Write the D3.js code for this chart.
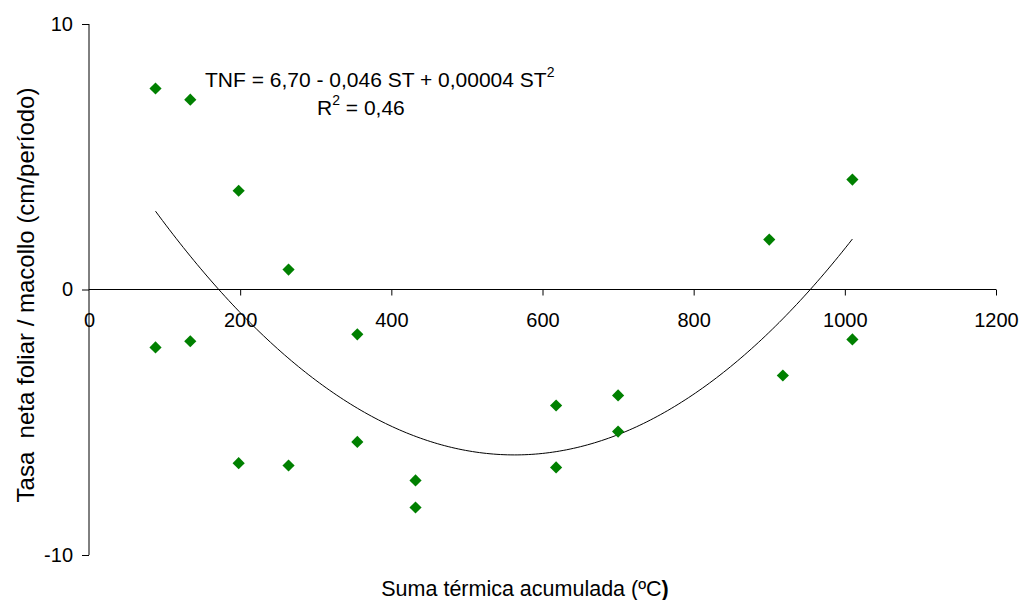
<!DOCTYPE html>
<html>
<head>
<meta charset="utf-8">
<script src="https://cdn.jsdelivr.net/npm/d3@7"></script>
<style>
  html, body { margin: 0; padding: 0; background: #fff; }
  svg { display: block; font-family: "Liberation Sans", Arial, sans-serif; }
</style>
</head>
<body>
<svg id="chart" width="1024" height="600"></svg>
<script>
// Accumulated thermal sum (ºC) for each sampling period
const sumaTermica = [88, 88, 134, 134, 198, 198, 264, 264, 355, 355, 432, 432,
                     618, 618, 700, 700, 900, 918, 1010, 1010];
// Net leaf growth rate per tiller (cm/period)
const tasaNeta = [7.57, -2.18, 7.15, -1.95, 3.72, -6.54, 0.75, -6.63, -1.69, -5.74,
                  -7.19, -8.21, -4.37, -6.70, -3.99, -5.35, 1.88, -3.24, 4.14, -1.88];

const xTicks = [0, 200, 400, 600, 800, 1000, 1200];
const yTicks = [-10, 0, 10];

const xTitle = "Suma térmica acumulada (ºC";
const yTitle = "Tasa  neta foliar / macollo (cm/período)";
const eqLine1 = "TNF = 6,70 - 0,046 ST + 0,00004 ST";
const eqLine2 = "R";
const eqLine2b = " = 0,46";

const margin = { left: 89, right: 28, top: 24, bottom: 45 };
const W = 1024, H = 600;
const svg = d3.select("#chart");

const x = d3.scaleLinear().domain([0, 1200]).range([margin.left, W - margin.right]);
const y = d3.scaleLinear().domain([-10, 10]).range([H - margin.bottom, margin.top]);

// plain hyphen for negative tick labels
const plain = d => String(d);

// Y axis (vertical line at x = 0) with ticks pointing left
const yAxis = svg.append("g")
  .attr("transform", `translate(${x(0)},0)`)
  .call(d3.axisLeft(y).tickValues(yTicks).tickSize(7).tickPadding(9).tickFormat(plain));

// X axis crossing at y = 0 with ticks pointing down
const xAxis = svg.append("g")
  .attr("transform", `translate(0,${y(0)})`)
  .call(d3.axisBottom(x).tickValues(xTicks).tickSize(6).tickPadding(17).tickFormat(plain));

[yAxis, xAxis].forEach(g => {
  g.select(".domain").attr("stroke", "#000").attr("stroke-width", 1);
  g.selectAll(".tick line").attr("stroke", "#000");
  g.selectAll(".tick text")
    .attr("font-family", "Liberation Sans, Arial, sans-serif")
    .attr("font-size", 20).attr("fill", "#000");
});
// plain axis lines without outer end ticks
yAxis.select(".domain").attr("d", `M0,${y(10)}V${y(-10)}`);
xAxis.select(".domain").attr("d", `M${x(0)},0H${x(1200)}`);
// the 0 tick of the x axis sits on the y axis
xAxis.selectAll(".tick").filter(d => d === 0).select("line").remove();

// Quadratic least-squares trend fitted to the points
function quadFit(xs, ys) {
  const n = xs.length;
  const s = [0, 0, 0, 0, 0], t = [0, 0, 0];
  for (let i = 0; i < n; i++) {
    const xi = xs[i], yi = ys[i];
    for (let k = 0; k <= 4; k++) s[k] += Math.pow(xi, k);
    for (let k = 0; k <= 2; k++) t[k] += yi * Math.pow(xi, k);
  }
  const A = [[s[0], s[1], s[2], t[0]], [s[1], s[2], s[3], t[1]], [s[2], s[3], s[4], t[2]]];
  for (let c = 0; c < 3; c++) {
    for (let r = c + 1; r < 3; r++) {
      const f = A[r][c] / A[c][c];
      for (let k = c; k < 4; k++) A[r][k] -= f * A[c][k];
    }
  }
  const b = [0, 0, 0];
  for (let r = 2; r >= 0; r--) {
    let v = A[r][3];
    for (let k = r + 1; k < 3; k++) v -= A[r][k] * b[k];
    b[r] = v / A[r][r];
  }
  return b;
}
const coef = quadFit(sumaTermica, tasaNeta);
const xmin = d3.min(sumaTermica), xmax = d3.max(sumaTermica);
const trend = d3.range(0, 201).map(i => {
  const xv = xmin + (xmax - xmin) * i / 200;
  return [xv, coef[0] + coef[1] * xv + coef[2] * xv * xv];
});
svg.append("path")
  .datum(trend)
  .attr("fill", "none")
  .attr("stroke", "#000")
  .attr("stroke-width", 1)
  .attr("d", d3.line().x(d => x(d[0])).y(d => y(d[1])));

// Diamond markers
const diamond = d3.symbol().type(d3.symbolSquare).size(74);
svg.append("g").selectAll("path")
  .data(sumaTermica.map((v, i) => [v, tasaNeta[i]]))
  .join("path")
  .attr("d", diamond)
  .attr("fill", "#008000")
  .attr("transform", d => `translate(${x(d[0])},${y(d[1])}) rotate(45)`);

// Regression equation
const eq = svg.append("text")
  .attr("x", 205).attr("y", 87)
  .attr("font-size", 21).attr("fill", "#000");
eq.append("tspan").text(eqLine1);
eq.append("tspan").attr("font-size", 14).attr("dy", -10).text("2");

const r2 = svg.append("text")
  .attr("x", 317).attr("y", 115)
  .attr("font-size", 21).attr("fill", "#000");
r2.append("tspan").text(eqLine2);
r2.append("tspan").attr("font-size", 14).attr("dy", -10).text("2");
r2.append("tspan").attr("dy", 10).text(eqLine2b);

// Axis titles
const xt = svg.append("text")
  .attr("x", 525).attr("y", 596)
  .attr("text-anchor", "middle")
  .attr("font-size", 21.5).attr("fill", "#000");
xt.append("tspan").text(xTitle);
xt.append("tspan").attr("font-weight", "bold").text(")");

svg.append("text")
  .attr("transform", "translate(34,295) rotate(-90)")
  .attr("text-anchor", "middle")
  .attr("font-size", 24).attr("fill", "#000")
  .style("white-space", "pre")
  .text(yTitle);
</script>
</body>
</html>
